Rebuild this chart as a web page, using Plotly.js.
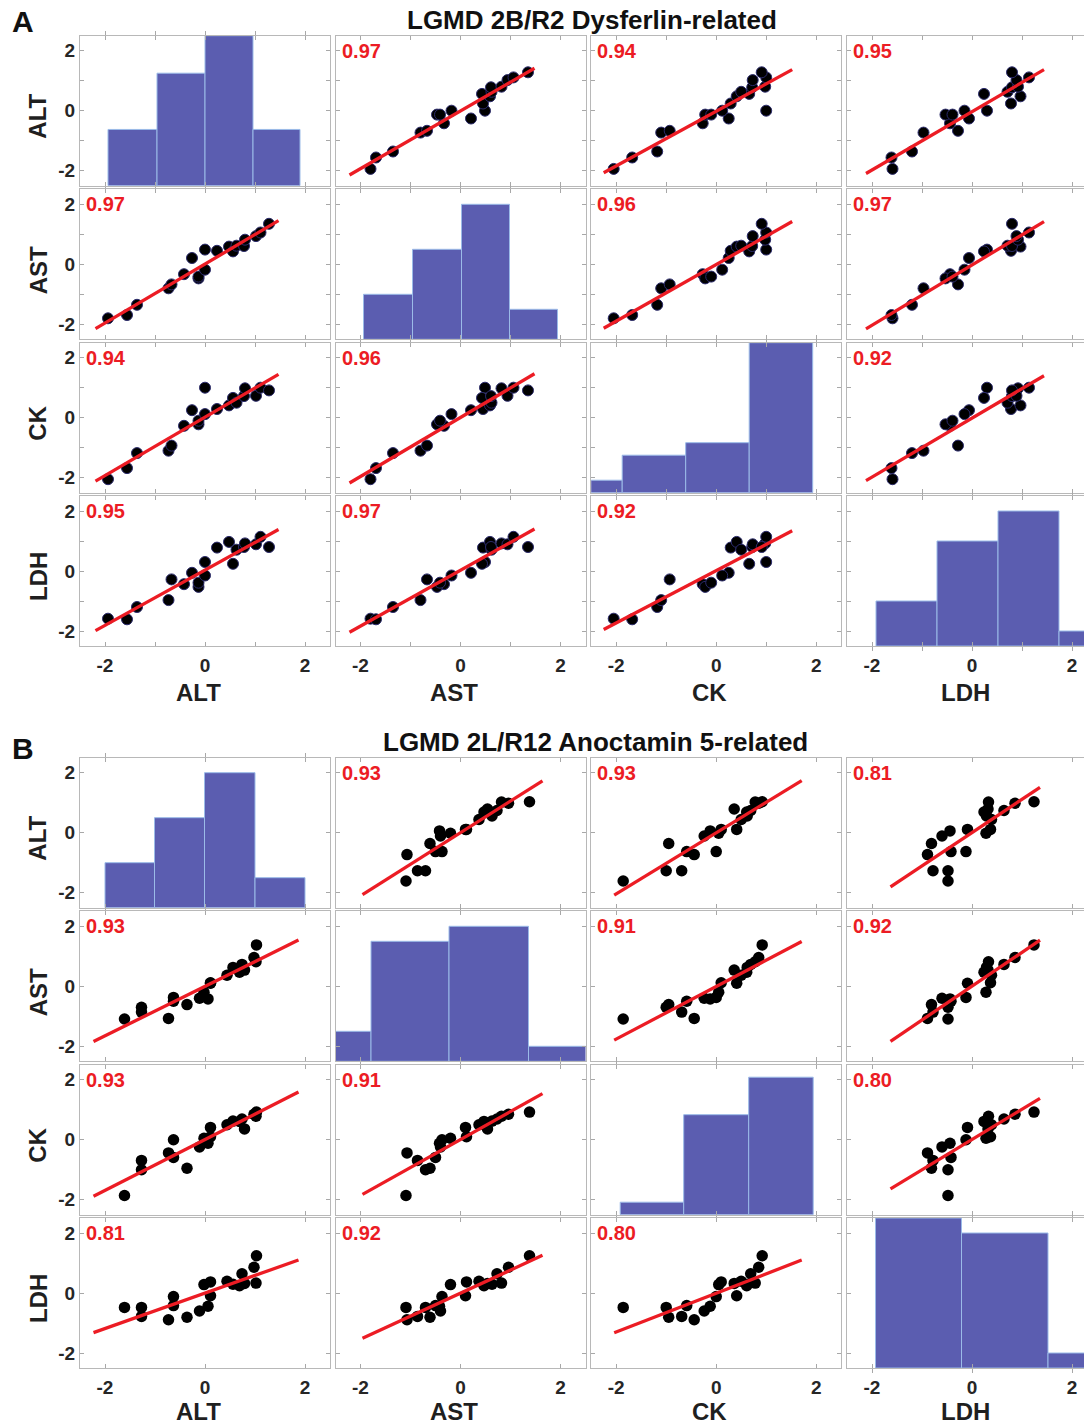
<!DOCTYPE html>
<html><head><meta charset="utf-8">
<script src="https://cdn.plot.ly/plotly-3.0.1.min.js"></script>
<style>html,body{margin:0;padding:0;overflow:hidden;background:#fff}</style>
</head><body>
<div id="chart" style="width:1100px;height:1426px"></div>
<script>
// ---------------- DATA ----------------
const varNames = ['ALT', 'AST', 'CK', 'LDH'];
const titleA = 'LGMD 2B/R2 Dysferlin-related';
const titleB = 'LGMD 2L/R12 Anoctamin 5-related';

// Group A (z-scored values, one entry per patient)
const altA = [-1.94,-1.56,-1.36,-0.73,-0.67,-0.42,-0.13,-0.13,-0.26,0.00,0.00,0.24,0.48,0.56,0.63,0.78,0.80,1.02,1.11,1.28];
const astA = [-1.80,-1.69,-1.35,-0.80,-0.67,-0.33,-0.47,-0.41,0.21,-0.18,0.49,0.45,0.59,0.43,0.62,0.61,0.82,0.94,1.06,1.35];
const ckA  = [-2.05,-1.68,-1.18,-1.10,-0.93,-0.27,-0.22,-0.10,0.25,0.12,1.00,0.29,0.41,0.66,0.50,0.72,0.98,0.73,1.00,0.91];
const ldhA = [-1.59,-1.61,-1.20,-0.97,-0.28,-0.44,-0.53,-0.39,-0.06,-0.15,0.30,0.78,0.97,0.24,0.71,0.80,0.92,0.89,1.14,0.80];

// Group B
const altB = [-1.61,-1.27,-1.27,-0.73,-0.63,-0.63,-0.36,-0.11,-0.02,0.06,0.11,0.11,0.44,0.69,0.79,0.56,0.74,1.02,0.98,1.03];
const astB = [-1.09,-0.86,-0.70,-1.07,-0.50,-0.37,-0.61,-0.40,-0.20,-0.42,0.10,0.12,0.37,0.47,0.54,0.63,0.73,0.82,0.96,1.38];
const ckB  = [-1.86,-0.69,-1.00,-0.44,-0.59,0.00,-0.95,-0.24,0.05,-0.12,0.41,0.10,0.50,0.61,0.36,0.62,0.69,0.78,0.85,0.92];
const ldhB = [-0.48,-0.78,-0.48,-0.89,-0.42,-0.12,-0.81,-0.60,0.28,-0.44,-0.09,0.37,0.39,0.24,0.32,0.29,0.64,0.33,0.86,1.24];

// Pearson correlations shown in the panels
const corrA = [[1,0.97,0.94,0.95],[0.97,1,0.96,0.97],[0.94,0.96,1,0.92],[0.95,0.97,0.92,1]];
const corrB = [[1,0.93,0.93,0.81],[0.93,1,0.91,0.92],[0.93,0.91,1,0.80],[0.81,0.92,0.80,1]];

// Diagonal histograms: bin edges and counts per variable
const histEdgesA  = [[-1.94,-0.96,0.00,0.96,1.90],[-1.94,-0.96,0.02,0.98,1.94],[-3.15,-1.88,-0.61,0.66,1.93],[-1.92,-0.70,0.52,1.74,2.96]];
const histCountsA = [[3,6,8,3],[3,6,9,2],[1,3,4,12],[3,7,9,1]];
const histEdgesB  = [[-2.00,-1.01,-0.01,1.00,2.00],[-3.36,-1.79,-0.23,1.36,2.93],[-1.92,-0.65,0.65,1.94],[-1.93,-0.21,1.52,3.24]];
const histCountsB = [[3,6,9,2],[2,8,9,1],[1,8,11],[10,9,1]];

// x-extent of the least-squares line, per x variable
const fitSpanA = [[-2.19,1.47],[-2.22,1.48],[-2.25,1.52],[-2.12,1.44]];
const fitSpanB = [[-2.23,1.87],[-1.96,1.64],[-2.04,1.71],[-1.63,1.36]];

// tick marks
const tickValsA = [-2,-1,0,1,2], tickTextA = ['-2','','0','','2'];
const tickValsB = [-2,0,2],       tickTextB = ['-2','0','2'];

// ---------------- LAYOUT ----------------
const W = 1100, H = 1426;
const FONT = 'Liberation Sans, Arial, Helvetica, sans-serif';
const RED = '#ec1c24';
const colLeft = [80, 335.5, 591.2, 847];
const panelW = 250, panelH = 150;
const rowTopA = [35.7, 189.3, 342.7, 496];
const rowTopB = [757.7, 911.3, 1064.7, 1218];

const traces = [];
const annotations = [];
const layout = {
  width: W, height: H, margin: {l:0, r:0, t:0, b:0},
  paper_bgcolor: '#fff', plot_bgcolor: '#fff', showlegend: false,
  font: {family: FONT}
};

const tickFont = {family: FONT, size: 19, color: '#262626', weight: 'bold'};
const axTitleFont = {family: FONT, size: 24, color: '#1f1f1f', weight: 'bold'};

function baseAxis(tv, tt) {
  return {
    showline: true, linecolor: '#b8b8b8', linewidth: 1, mirror: 'allticks',
    ticks: 'inside', ticklen: 4, tickwidth: 1, tickcolor: '#a8a8a8',
    tickmode: 'array', tickvals: tv, ticktext: tt, tickfont: tickFont,
    showgrid: false, zeroline: false, fixedrange: true, range: [-2.5, 2.5]
  };
}

function lsFit(x, y) {
  const n = x.length;
  const mx = x.reduce((a,b)=>a+b,0)/n, my = y.reduce((a,b)=>a+b,0)/n;
  let sxy = 0, sxx = 0;
  for (let k = 0; k < n; k++) { sxy += (x[k]-mx)*(y[k]-my); sxx += (x[k]-mx)*(x[k]-mx); }
  const b = sxy/sxx;
  return {a: my - b*mx, b: b};
}

function addGroup(g, vars, corr, hEdges, hCounts, span, tv, tt, marker, rowTop, xTitleGap) {
  for (let i = 0; i < 4; i++) {
    for (let j = 0; j < 4; j++) {
      const n = g*16 + i*4 + j + 1;
      const xr = n === 1 ? 'x' : 'x' + n, yr = n === 1 ? 'y' : 'y' + n;
      const xk = n === 1 ? 'xaxis' : 'xaxis' + n, yk = n === 1 ? 'yaxis' : 'yaxis' + n;
      const xdom = [colLeft[j]/W, (colLeft[j]+panelW)/W];
      const ydom = [1-(rowTop[i]+panelH)/H, 1-rowTop[i]/H];

      layout[xk] = Object.assign(baseAxis(tv, tt), {domain: xdom, anchor: yr, showticklabels: i === 3, ticklabelstandoff: 2});

      // variable names: below the bottom row, left of the first column
      if (i === 3) {
        annotations.push({xref: 'paper', yref: 'paper', x: (colLeft[j] + panelW/2 - 7)/W,
                          y: 1 - (rowTop[3] + panelH + xTitleGap)/H, xanchor: 'center', yanchor: 'middle',
                          showarrow: false, text: varNames[j], font: axTitleFont});
      }
      if (j === 0) {
        annotations.push({xref: 'paper', yref: 'paper', x: 38/W,
                          y: 1 - (rowTop[i] + panelH/2 + 6)/H, xanchor: 'center', yanchor: 'middle',
                          textangle: -90, showarrow: false, text: varNames[i], font: axTitleFont});
      }

      if (i !== j) {
        layout[yk] = Object.assign(baseAxis(tv, tt), {domain: ydom, anchor: xr, showticklabels: j === 0});
        traces.push({type: 'scatter', mode: 'markers', x: vars[j], y: vars[i], xaxis: xr, yaxis: yr,
                     marker: marker, hoverinfo: 'skip', cliponaxis: true});
        const f = lsFit(vars[j], vars[i]);
        traces.push({type: 'scatter', mode: 'lines', x: span[j], y: span[j].map(v => f.a + f.b*v),
                     xaxis: xr, yaxis: yr, line: {color: RED, width: 3.3}, hoverinfo: 'skip'});
        annotations.push({xref: xr + ' domain', yref: yr + ' domain', x: 0.016, y: 0.9,
                          xanchor: 'left', yanchor: 'middle', showarrow: false,
                          text: corr[i][j].toFixed(2),
                          font: {family: FONT, size: 20, color: RED, weight: 'bold'}});
      } else {
        const edges = hEdges[i], counts = hCounts[i];
        const centers = counts.map((c, k) => (edges[k] + edges[k+1]) / 2);
        const widths = counts.map((c, k) => edges[k+1] - edges[k]);
        const ymax = 2 * Math.ceil(Math.max(...counts) / 2);
        layout[yk] = {domain: ydom, anchor: xr, range: [0, ymax], visible: false, fixedrange: true};
        traces.push({type: 'bar', x: centers, y: counts, width: widths, xaxis: xr, yaxis: yr,
                     marker: {color: '#5b5db0', line: {color: '#9bbbe8', width: 1}}, hoverinfo: 'skip'});
        const m = 32 + g*4 + i + 1;
        layout['yaxis' + m] = Object.assign(baseAxis(tv, tt), {overlaying: yr, anchor: xr, side: 'left', showticklabels: j === 0});
        traces.push({type: 'scatter', mode: 'markers', x: [], y: [], xaxis: xr, yaxis: 'y' + m, hoverinfo: 'skip'});
      }
    }
  }
}

addGroup(0, [altA, astA, ckA, ldhA], corrA, histEdgesA, histCountsA, fitSpanA, tickValsA, tickTextA,
         {color: '#000', size: 11, line: {color: '#2b2b6b', width: 1}}, rowTopA, 46);
addGroup(1, [altB, astB, ckB, ldhB], corrB, histEdgesB, histCountsB, fitSpanB, tickValsB, tickTextB,
         {color: '#000', size: 11.5, line: {width: 0}}, rowTopB, 43);

// Panel letters and titles
annotations.push({xref: 'paper', yref: 'paper', x: 10/W, y: 1 - 22/H, xanchor: 'left', yanchor: 'middle',
                  text: 'A', showarrow: false, font: {family: FONT, size: 30, color: '#111', weight: 'bold'}});
annotations.push({xref: 'paper', yref: 'paper', x: 592/W, y: 1 - 20/H, xanchor: 'center', yanchor: 'middle',
                  text: titleA, showarrow: false, font: {family: FONT, size: 26, color: '#111', weight: 'bold'}});
annotations.push({xref: 'paper', yref: 'paper', x: 10/W, y: 1 - 748/H, xanchor: 'left', yanchor: 'middle',
                  text: 'B', showarrow: false, font: {family: FONT, size: 30, color: '#111', weight: 'bold'}});
annotations.push({xref: 'paper', yref: 'paper', x: 595/W, y: 1 - 742/H, xanchor: 'center', yanchor: 'middle',
                  text: titleB, showarrow: false, font: {family: FONT, size: 26, color: '#111', weight: 'bold'}});
layout.annotations = annotations;

Plotly.newPlot('chart', traces, layout, {staticPlot: true, displayModeBar: false});
</script>
</body></html>
